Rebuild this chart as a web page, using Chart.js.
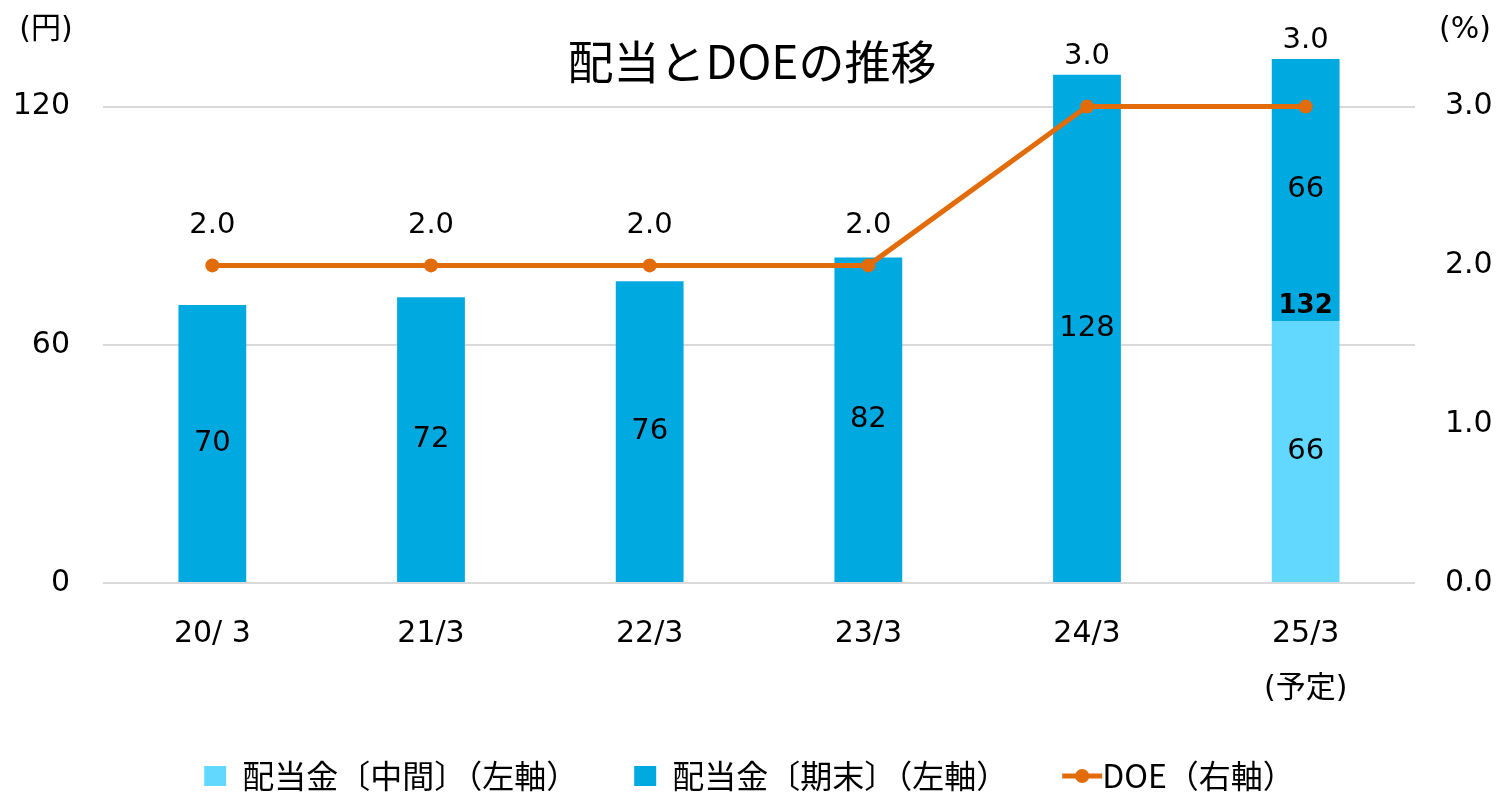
<!DOCTYPE html>
<html>
<head>
<meta charset="utf-8">
<script src="https://cdn.jsdelivr.net/npm/chart.js@4.4.0/dist/chart.umd.min.js"></script>
<style>
  html, body { margin: 0; padding: 0; background: #fff; }
  #wrap { width: 1499px; height: 794px; }
</style>
</head>
<body>
<div id="wrap"><canvas id="doeChart"></canvas></div>
<script>
const categories = [['20/ 3'], ['21/3'], ['22/3'], ['23/3'], ['24/3'], ['25/3', '(予定)']];
const interimDiv = [0, 0, 0, 0, 0, 66];
const yearEndDiv = [70, 72, 76, 82, 128, 66];
const doeValues = [2.0, 2.0, 2.0, 2.0, 3.0, 3.0];
const leftTicks = [0, 60, 120];
const rightTicks = [0, 1, 2, 3];
const seriesNames = ['配当金〔中間〕（左軸）', '配当金〔期末〕（左軸）', 'DOE（右軸）'];

const FONT = "'DejaVu Sans', 'Noto Sans CJK JP', sans-serif";
const CJK = "'Noto Sans CJK JP', 'DejaVu Sans', sans-serif";
const LIGHT = '#63D8FF';
const DARK = '#00A9E0';
const ORANGE = '#E26B0A';

const labelPlugin = {
  id: 'labelPlugin',
  afterDatasetsDraw(chart) {
    const ctx = chart.ctx;
    const m0 = chart.getDatasetMeta(0);
    const m1 = chart.getDatasetMeta(1);
    const m2 = chart.getDatasetMeta(2);
    ctx.save();
    ctx.fillStyle = '#000';
    ctx.textAlign = 'center';
    ctx.textBaseline = 'middle';
    ctx.font = '29px ' + FONT;
    // bar values
    m1.data.forEach((bar, i) => {
      ctx.fillText(String(yearEndDiv[i]), bar.x, (bar.y + bar.base) / 2);
    });
    m0.data.forEach((bar, i) => {
      if (!interimDiv[i]) return;
      ctx.fillText(String(interimDiv[i]), bar.x, (bar.y + bar.base) / 2);
      ctx.font = 'bold 26px ' + FONT;
      ctx.fillText(String(interimDiv[i] + yearEndDiv[i]), bar.x, bar.y - 15);
      ctx.font = '29px ' + FONT;
    });
    // DOE values
    m2.data.forEach((pt, i) => {
      const top = m1.data[i].y;
      const y = Math.min(pt.y - 40, top - 18);
      ctx.fillText(doeValues[i].toFixed(1), pt.x, y);
    });
    ctx.restore();
  },
  afterDraw(chart) {
    const ctx = chart.ctx;
    ctx.save();
    // title
    ctx.fillStyle = '#000';
    ctx.textAlign = 'center';
    ctx.textBaseline = 'middle';
    ctx.font = '46px ' + CJK;
    ctx.fillText('配当とDOEの推移', 752, 62);
    // axis units
    ctx.font = '30px ' + FONT;
    ctx.fillText('(円)', 46, 30);
    ctx.fillText('(%)', 1465, 30);
    // DOE legend marker: line with dot
    const hb = chart.legend.legendHitBoxes[2];
    if (hb) {
      const cy = hb.top + hb.height / 2;
      const x0 = hb.left - 2, x1 = hb.left + 38;
      ctx.strokeStyle = ORANGE;
      ctx.lineWidth = 5;
      ctx.beginPath();
      ctx.moveTo(x0, cy);
      ctx.lineTo(x1, cy);
      ctx.stroke();
      ctx.fillStyle = ORANGE;
      ctx.beginPath();
      ctx.arc((x0 + x1) / 2, cy, 7, 0, Math.PI * 2);
      ctx.fill();
    }
    ctx.restore();
  }
};

new Chart(document.getElementById('doeChart').getContext('2d'), {
  type: 'bar',
  data: {
    labels: categories,
    datasets: [
      {
        label: seriesNames[0],
        data: interimDiv,
        backgroundColor: LIGHT,
        stack: 'div',
        yAxisID: 'y',
        order: 1,
        barPercentage: 0.31,
        categoryPercentage: 1
      },
      {
        label: seriesNames[1],
        data: yearEndDiv,
        backgroundColor: DARK,
        stack: 'div',
        yAxisID: 'y',
        order: 1,
        barPercentage: 0.31,
        categoryPercentage: 1
      },
      {
        type: 'line',
        label: seriesNames[2],
        data: doeValues,
        yAxisID: 'y2',
        borderColor: ORANGE,
        backgroundColor: ORANGE,
        borderWidth: 5,
        pointRadius: 7,
        pointBackgroundColor: ORANGE,
        pointBorderWidth: 0,
        tension: 0,
        order: 0
      }
    ]
  },
  options: {
    responsive: true,
    maintainAspectRatio: false,
    animation: false,
    layout: { padding: { top: 4, bottom: -8, left: 0, right: 0 } },
    plugins: {
      legend: {
        position: 'bottom',
        labels: {
          font: { family: CJK, size: 32 },
          color: '#000',
          boxWidth: 22,
          boxHeight: 20,
          padding: 8,
          sort: (a, b) => a.datasetIndex - b.datasetIndex,
          generateLabels(chart) {
            const items = Chart.defaults.plugins.legend.labels.generateLabels(chart);
            items.forEach(it => {
              if (it.datasetIndex < 2) it.text = it.text + '　　';
              it.lineWidth = 0;
              if (it.datasetIndex === 2) {
                it.fillStyle = 'rgba(0,0,0,0)';
                it.strokeStyle = 'rgba(0,0,0,0)';
              }
            });
            return items;
          }
        }
      },
      tooltip: { enabled: false }
    },
    scales: {
      x: {
        stacked: true,
        grid: { display: false },
        border: { display: false },
        ticks: {
          font: { family: FONT, size: 30, lineHeight: 1.85 },
          color: '#000',
          padding: 15,
          maxRotation: 0
        },
        afterFit(scale) { scale.height = 169; }
      },
      y: {
        stacked: true,
        position: 'left',
        min: 0,
        max: 134,
        afterBuildTicks(scale) { scale.ticks = leftTicks.map(v => ({ value: v })); },
        grid: { color: '#D9D9D9', lineWidth: 2, drawTicks: false },
        border: { display: false },
        ticks: {
          font: { family: FONT, size: 30 },
          color: '#000',
          padding: 33
        },
        afterFit(scale) { scale.width = 103; }
      },
      y2: {
        position: 'right',
        min: 0,
        max: 3.35,
        afterBuildTicks(scale) { scale.ticks = rightTicks.map(v => ({ value: v })); },
        grid: { display: false, drawTicks: false },
        border: { display: false },
        ticks: {
          font: { family: FONT, size: 30 },
          color: '#000',
          padding: 30,
          callback: v => Number(v).toFixed(1)
        },
        afterFit(scale) { scale.width = 84; }
      }
    }
  },
  plugins: [labelPlugin]
});
</script>
</body>
</html>
